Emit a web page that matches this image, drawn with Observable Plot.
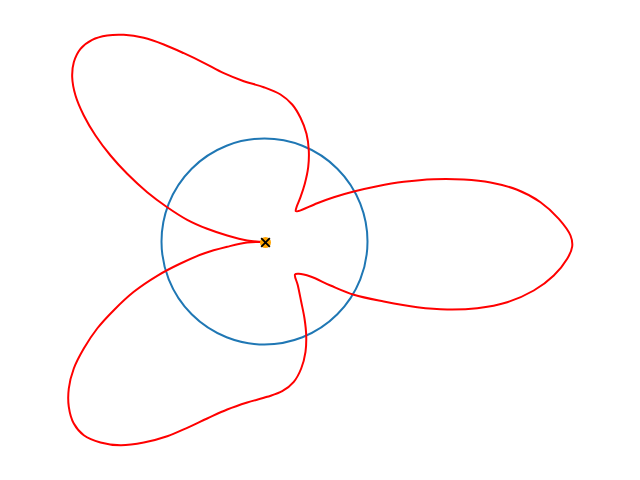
<!DOCTYPE html>
<html>
<head>
<meta charset="utf-8">
<script src="https://cdn.jsdelivr.net/npm/d3@7"></script>
<script src="https://cdn.jsdelivr.net/npm/@observablehq/plot@0.6"></script>
<style>
  html, body { margin: 0; padding: 0; background: #fff; }
  svg { display: block; }
</style>
</head>
<body>
<div id="chart"></div>
<script>
// Red curve (x, y relative to the circle centre, y up)
const curveX = [
  1, -17.3, -37.3, -57.3, -77.3, -97.3, -117.3, -137.3, -154, -169, -180.7, -189, -192.3, -190.7, -184, -172.3, -157.3, -140.7, -120.7, -100.7, -80.7, -60.7, -40.7, -20.7, -0.7, 16, 27.7, 36, 42, 44.3, 43.7, 40.3, 36, 32, 31.3,
  34, 52.7, 69.3, 89.3, 112.7, 139.3, 169.3, 199.3, 226, 252.7, 276, 294.3, 306, 307.7, 302.7, 289.3, 269.3, 242.7, 212.7, 182.7, 152.7, 119.3, 89.3, 66, 46, 34.3,
  30.5, 33.3, 36.7, 40, 41.7, 41, 36.7, 29.3, 17.7, 2.7, -17.3, -37.3, -57.3, -77.3, -97.3, -120.7, -144, -164, -180.7, -190.7, -195.7, -195.7, -190.7, -180.7, -167.3, -150.7, -130.7, -107.3, -84, -60.7, -37.3, -17.3, 1
];
const curveY = [
  -0.5, 1, 6, 12.7, 21.7, 34.3, 49.3, 67.7, 86, 106, 126, 146, 164.3, 179.3, 192.7, 201.7, 206, 206.7, 203.7, 197, 188.3, 178.7, 168.3, 160.3, 154.3, 147, 137, 123.7, 107.7, 91, 74.3, 57.7, 44.3, 34.3, 30.3,
  30.5, 38.3, 44.3, 50, 55.3, 59.7, 62.3, 62, 59, 51.7, 39.3, 22.7, 6, -5, -17.3, -34, -49, -60.7, -66.7, -68, -65.7, -60, -53.3, -44, -35, -32.3,
  -33, -43.7, -60.3, -77, -93.7, -110.3, -127, -140.3, -149.7, -155.3, -161, -168, -177, -186.3, -194.7, -201, -203.7, -201, -193.7, -182, -165.3, -147, -127, -107, -87, -68.7, -50.3, -34.3, -22, -12, -5.3, -1, -0.5
];
// Blue circle (centre and radius) and centre marker
const circleX = [0];
const circleY = [0];
const circleR = 103;
const markerX = [1];
const markerY = [-1];

const curve = curveX.map((x, i) => ({x, y: curveY[i]}));
const circle = circleX.map((x, i) => ({x, y: circleY[i]}));
const marker = markerX.map((x, i) => ({x, y: markerY[i]}));

const chart = Plot.plot({
  width: 640,
  height: 480,
  marginTop: 0, marginRight: 0, marginBottom: 0, marginLeft: 0,
  x: {domain: [-264, 376], axis: null},
  y: {domain: [-239, 241], axis: null},
  style: {background: "#fff"},
  marks: [
    Plot.dot(circle, {x: "x", y: "y", r: circleR, stroke: "#1f77b4", fill: "none", strokeWidth: 2}),
    Plot.line(curve, {x: "x", y: "y", stroke: "red", strokeWidth: 2, curve: "catmull-rom"}),
    Plot.dot(marker, {x: "x", y: "y", r: 5.5, fill: "orange", stroke: "none"}),
    Plot.dot(marker, {x: "x", y: "y", r: 4, symbol: "times", stroke: "black", strokeWidth: 1.8})
  ]
});
document.getElementById("chart").appendChild(chart);
</script>
</body>
</html>
